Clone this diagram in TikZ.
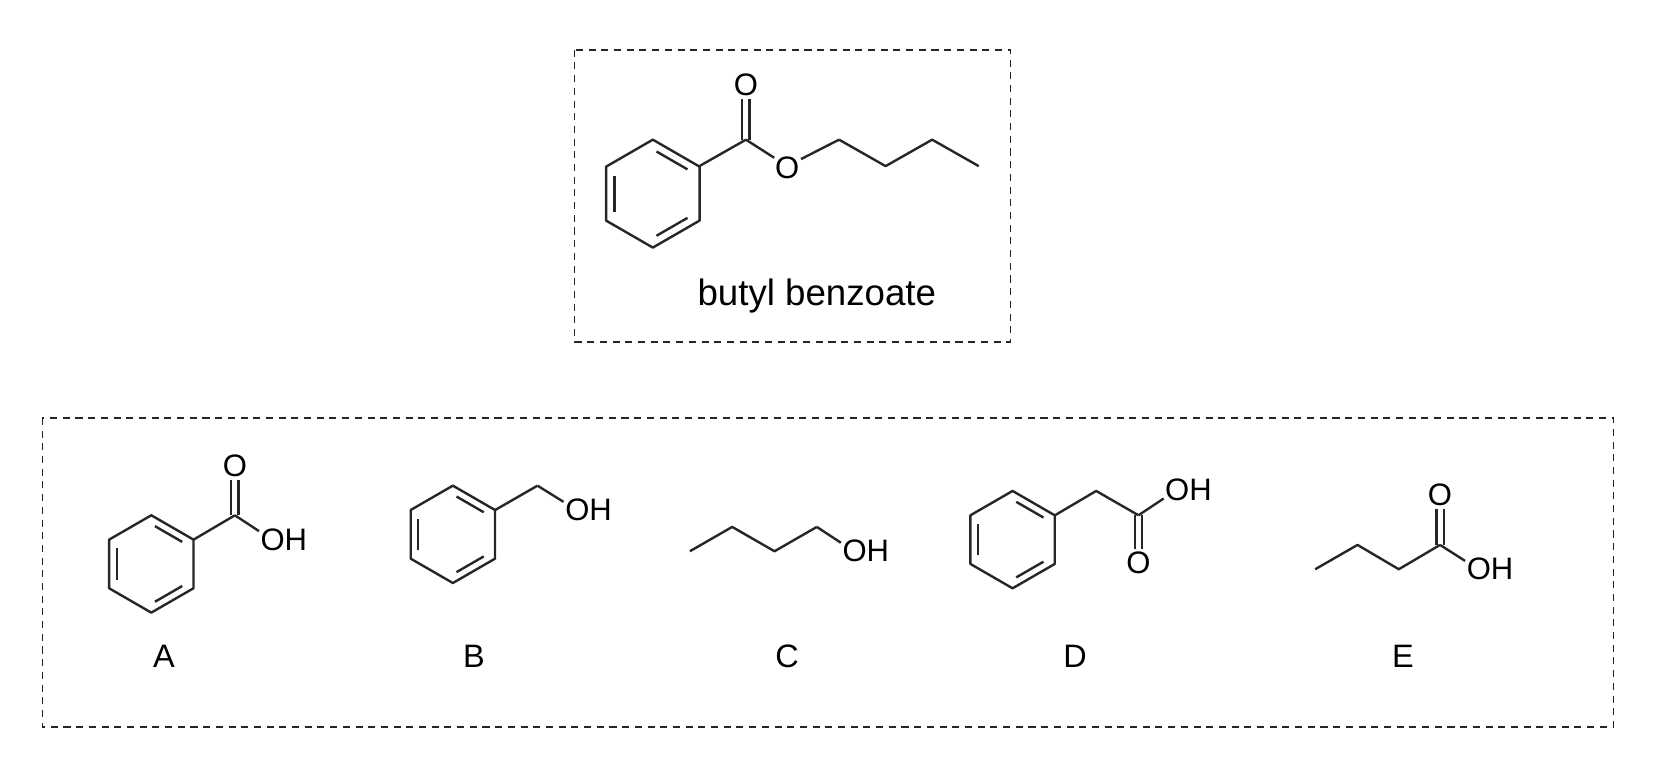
\documentclass[tikz,border=0pt]{standalone}
\usepackage{fontspec}
\setmainfont{Liberation Sans}
\newcommand\benz[3]{%
  \draw[bond] ([shift={(#1,#2)}]270:#3) -- ([shift={(#1,#2)}]330:#3) -- ([shift={(#1,#2)}]30:#3) -- ([shift={(#1,#2)}]90:#3) -- ([shift={(#1,#2)}]150:#3) -- ([shift={(#1,#2)}]210:#3) -- cycle;
  \foreach \a in {270,30,150}{\draw[bond,shorten <=3pt,shorten >=3pt] ([shift={(#1,#2)}]\a:#3*0.82) -- ([shift={(#1,#2)}]\a+60:#3*0.82);}}
\begin{document}
\begin{tikzpicture}[x=0.75pt,y=-0.75pt,
  bond/.style={line width=1.7pt,draw=black!85,line join=round},
  tobond/.style={bond,shorten >=11pt},
  frombond/.style={bond,shorten <=11pt},
  atom/.style={font=\fontsize{22}{26}\selectfont,inner sep=0pt},
  lab/.style={font=\fontsize{23}{27}\selectfont,inner sep=0pt},
  box/.style={draw=black!85,line width=1.1pt,dash pattern=on 5pt off 4pt}]
\useasboundingbox (0,0) rectangle (1567,728);
\draw[box] (543,47) rectangle (955,323);
\draw[box] (40,395) rectangle (1525,687);
% butyl benzoate
\benz{617}{183}{51}
\coordinate (c1) at (661,157); \coordinate (cc) at (705,132);
\node[atom] (o1) at (705,80) {O};
\node[atom] (o2) at (744,159) {O};
\draw[bond] (c1) -- (cc);
\draw[bond,shorten >=10pt] ([xshift=-2.6]cc) -- ([xshift=-2.6]705,80);
\draw[bond,shorten >=10pt] ([xshift=2.6]cc) -- ([xshift=2.6]705,80);
\draw[tobond] (cc) -- (744,157);
\coordinate (b1) at (793,132); \coordinate (b2) at (837,157); \coordinate (b3) at (881,132); \coordinate (b4) at (925,157);
\draw[frombond] (744,157) -- (b1);
\draw[bond] (b1) -- (b2) -- (b3) -- (b4);
\node[font=\fontsize{26}{30}\selectfont,inner sep=0pt] (name) at (772,280) {butyl benzoate};
% A
\benz{143}{533}{46}
\coordinate (ac) at (222,487);
\draw[bond] (183,510) -- (ac);
\draw[bond,shorten >=10pt] ([xshift=-2.6]ac) -- ([xshift=-2.6]222,440);
\draw[bond,shorten >=10pt] ([xshift=2.6]ac) -- ([xshift=2.6]222,440);
\node[atom] (ao) at (222,440) {O};
\draw[tobond] (ac) -- (257,510);
\node[atom,anchor=west] (aoh) at (246,510) {OH};
\node[lab] (la) at (155,620) {A};
% B
\benz{428}{505}{46}
\coordinate (bc) at (508,459);
\draw[bond] (468,482) -- (bc);
\draw[tobond] (bc) -- (545,482);
\node[atom,anchor=west] (boh) at (534,482) {OH};
\node[lab] (lb) at (448,620) {B};
% C
\coordinate (c1) at (652,521); \coordinate (c2) at (692,498); \coordinate (c3) at (732,521); \coordinate (c4) at (772,498);
\draw[bond] (c1) -- (c2) -- (c3) -- (c4);
\draw[tobond] (c4) -- (807,521);
\node[atom,anchor=west] (coh) at (796,521) {OH};
\node[lab] (lc) at (744,620) {C};
% D
\benz{957}{510}{46}
\coordinate (d1) at (1036,464); \coordinate (dc) at (1076,487);
\draw[bond] (997,487) -- (d1) -- (dc);
\draw[bond,shorten >=10pt] ([xshift=-2.6]dc) -- ([xshift=-2.6]1076,532);
\draw[bond,shorten >=10pt] ([xshift=2.6]dc) -- ([xshift=2.6]1076,532);
\node[atom] (do) at (1076,532) {O};
\draw[tobond] (dc) -- (1112,463);
\node[atom,anchor=west] (doh) at (1101,463) {OH};
\node[lab] (ld) at (1016,620) {D};
% E
\coordinate (e1) at (1243,538); \coordinate (e2) at (1283,515); \coordinate (e3) at (1322,538); \coordinate (ec) at (1361,515);
\draw[bond] (e1) -- (e2) -- (e3) -- (ec);
\draw[bond,shorten >=10pt] ([xshift=-2.6]ec) -- ([xshift=-2.6]1361,468);
\draw[bond,shorten >=10pt] ([xshift=2.6]ec) -- ([xshift=2.6]1361,468);
\node[atom] (eo) at (1361,468) {O};
\draw[tobond] (ec) -- (1397,538);
\node[atom,anchor=west] (eoh) at (1386,538) {OH};
\node[lab] (le) at (1326,620) {E};
\end{tikzpicture}
\end{document}
